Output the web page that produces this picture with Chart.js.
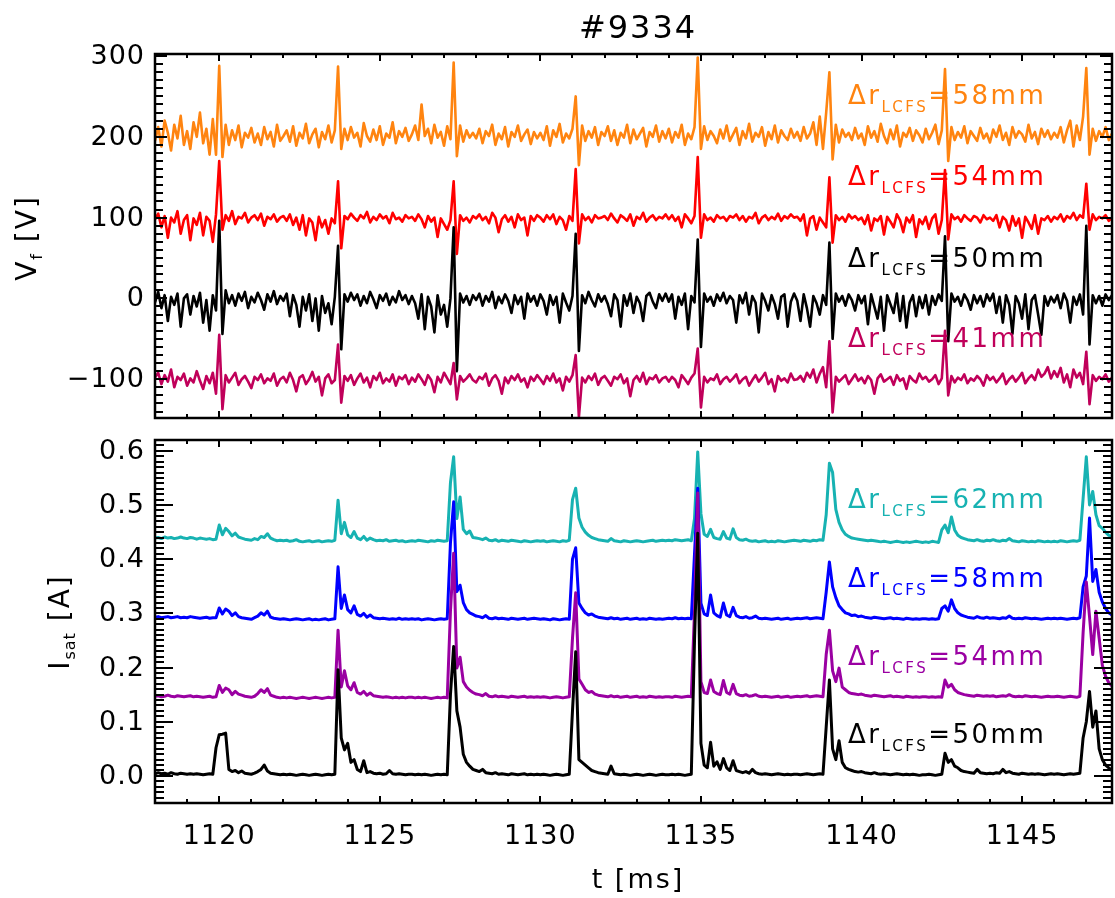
<!DOCTYPE html>
<html>
<head>
<meta charset="utf-8">
<script src="https://cdn.jsdelivr.net/npm/chart.js@4.4.1/dist/chart.umd.min.js"></script>
<style>
html,body{margin:0;padding:0;background:#fff;width:1115px;height:898px;overflow:hidden}
#c1{position:absolute;left:0;top:0}
#c2{position:absolute;left:0;top:430px}
</style>
</head>
<body>
<canvas id="c1" width="1115" height="430"></canvas>
<canvas id="c2" width="1115" height="468"></canvas>
<script>
// ---------- sampling grid (time in ms, 0.1 ms step) ----------
const T_START = 1118.0, T_STEP = 0.1, N_SAMPLES = 299;
const tMs = Array.from({length: N_SAMPLES}, (_, i) => +(T_START + i * T_STEP).toFixed(1));

// ---------- tick labels ----------
const tTicks = [1120, 1125, 1130, 1135, 1140, 1145];
const vfTicks = [-100, 0, 100, 200, 300];
const isatTicks = [0.0, 0.1, 0.2, 0.3, 0.4, 0.5, 0.6];

// ---------- series names ----------
const vfNames = ['=58mm', '=54mm', '=50mm', '=41mm'];
const isatNames = ['=62mm', '=58mm', '=54mm', '=50mm'];

// ---------- floating potential V_f [V] (traces offset as in the figure) ----------
const vf58 = [
195,212,188,220,205,183,215,198,226,190,207,185,218,200,230,192,210,178,222,178,
288,175,215,190,208,196,214,187,205,199,211,193,204,190,212,197,206,188,215,195,
201,208,194,213,189,205,198,216,192,203,210,187,206,197,214,193,208,287,185,210,
196,212,199,205,188,217,201,194,209,196,213,190,204,199,218,192,207,200,211,195,
203,214,196,240,201,210,192,215,199,206,189,213,197,292,176,214,194,208,199,205,
198,210,192,207,201,215,190,204,197,212,188,206,200,214,195,203,209,191,206,198,
205,196,213,189,208,200,216,193,204,198,210,250,165,214,195,207,199,212,190,206,
201,213,195,208,190,205,199,215,192,209,197,204,211,188,206,200,214,194,207,198,
210,193,206,199,215,190,204,197,212,298,185,213,196,207,201,192,209,198,214,195,
203,211,190,207,198,216,194,205,200,212,189,206,197,214,193,208,201,196,210,199,
206,195,212,198,204,218,190,225,185,230,280,172,215,193,209,200,205,196,211,198,
204,190,213,199,207,194,216,201,192,209,197,214,188,205,200,211,195,208,202,193,
210,197,205,215,191,208,284,170,212,196,206,199,213,192,207,201,195,211,198,204,
193,209,200,214,196,205,190,212,199,207,203,194,215,198,206,191,210,200,208,197,
205,199,212,193,208,220,188,214,196,225,285,178,210,195,207,200,212,196,204];
const vf54 = [
98,105,88,102,75,100,94,108,80,97,103,72,99,91,106,78,101,96,70,104,
170,85,103,96,108,92,101,99,106,94,100,103,97,105,90,101,98,104,95,100,
102,96,104,91,100,85,103,78,99,94,72,101,88,97,80,99,93,145,62,102,
98,105,100,96,103,99,107,94,101,97,104,99,102,93,106,98,100,95,103,99,
101,96,104,98,88,102,95,100,76,99,92,85,97,145,55,103,96,100,94,102,
99,104,97,101,93,106,100,82,98,103,95,101,88,104,97,100,78,102,96,103,
100,95,103,98,104,92,101,97,85,102,96,160,68,104,97,101,94,103,99,100,
102,97,105,99,94,103,100,96,104,90,101,98,106,95,100,103,97,101,99,104,
98,103,96,101,88,104,99,93,102,175,75,104,97,100,95,103,99,101,96,102,
100,104,97,102,95,101,99,106,93,100,103,97,101,98,105,96,102,99,104,100,
101,96,104,78,99,102,85,100,94,88,150,69,103,97,101,95,104,99,102,97,
100,92,103,84,99,96,102,79,101,95,88,104,97,82,100,94,103,76,98,92,
101,86,99,104,80,97,159,73,104,98,101,95,103,99,96,102,100,94,103,98,
100,96,103,88,101,97,84,102,90,99,75,101,94,86,103,80,99,97,102,95,
101,98,104,95,102,99,106,97,103,100,142,85,104,97,101,99,103,96,100];
const vf50 = [
-5,8,-12,4,-28,2,-8,6,-35,0,5,-20,3,-10,7,-30,-2,-40,4,-15,
96,-44,10,-6,4,-9,6,-3,8,-12,2,-5,7,-2,-14,5,-4,9,-7,3,
-3,6,-22,4,-8,-35,2,-15,5,-28,0,-40,3,-18,-6,-32,2,65,-63,5,
-4,7,-2,5,-9,3,-6,8,-1,-12,4,-3,6,-8,2,-5,9,-2,4,-7,
3,-6,-25,5,-38,2,-10,-42,4,-20,-8,-35,0,88,-90,6,-5,3,-8,4,
-2,6,-9,3,-4,8,-12,2,-6,5,-3,-18,4,-7,2,-25,6,-4,3,-9,
5,-3,-20,4,-8,2,-30,6,-5,-15,3,80,-65,4,-6,8,-2,-10,5,-4,
3,-7,-22,5,-2,-35,4,-9,6,-18,2,-6,-28,3,7,-4,-12,5,-3,6,
-4,5,-25,2,-8,6,-38,3,-5,73,-60,6,-4,2,-9,5,-3,7,-6,3,
-2,-30,4,-6,7,-20,3,-5,-42,6,-3,-15,4,-7,-25,2,5,-35,-4,6,
-3,-28,5,-12,-35,3,-6,-20,4,-8,69,-50,6,-4,3,-9,5,-2,-15,4,
-6,3,-32,5,-10,-25,2,-40,4,-7,-18,6,-28,3,-36,-5,4,-22,2,-12,
4,-20,3,-8,5,-3,77,-53,6,-4,2,-9,5,-2,-14,4,-6,3,-10,5,
-3,6,-18,2,-30,4,-8,-44,3,-6,-25,5,-38,-2,4,-20,-45,3,-9,2,
-5,4,-12,6,-3,-30,2,-8,5,-20,90,-57,4,-6,3,-9,5,-2,4];
const vf41 = [
-98,-92,-106,-95,-103,-88,-110,-97,-101,-93,-108,-99,-104,-90,-102,-112,-96,-105,-92,-118,
-45,-137,-95,-104,-98,-92,-107,-100,-96,-103,-111,-97,-101,-94,-105,-99,-102,-93,-108,-100,
-97,-104,-92,-101,-115,-98,-95,-106,-100,-91,-103,-97,-120,-99,-94,-105,-101,-57,-129,-96,
-102,-95,-107,-99,-93,-104,-98,-110,-96,-101,-92,-105,-99,-103,-94,-108,-97,-100,-95,-106,
-98,-103,-94,-100,-107,-95,-101,-116,-97,-104,-92,-99,-106,-80,-125,-96,-103,-99,-94,-101,
-104,-97,-100,-93,-108,-99,-95,-102,-118,-98,-105,-96,-101,-94,-103,-99,-110,-97,-102,-95,
-100,-106,-96,-102,-93,-104,-99,-114,-97,-103,-95,-70,-147,-98,-104,-96,-101,-93,-107,-99,
-96,-102,-108,-97,-100,-94,-105,-99,-121,-101,-96,-103,-92,-106,-98,-100,-95,-104,-99,-97,
-103,-97,-101,-110,-95,-100,-106,-98,-93,-62,-135,-97,-104,-99,-101,-94,-106,-100,-97,-103,
-99,-94,-105,-100,-97,-108,-101,-95,-103,-98,-92,-106,-100,-115,-96,-102,-99,-104,-93,-101,
-100,-96,-103,-92,-98,-88,-104,-93,-85,-110,-53,-141,-97,-103,-99,-95,-106,-100,-94,-102,
-98,-105,-96,-101,-118,-99,-94,-103,-100,-97,-107,-95,-102,-99,-112,-96,-101,-104,-93,-100,
-97,-103,-100,-95,-106,-99,-40,-120,-96,-104,-98,-101,-94,-105,-99,-102,-96,-100,-108,-95,
-101,-97,-104,-99,-93,-106,-100,-96,-103,-98,-92,-105,-99,-95,-101,-88,-97,-93,-85,-99,
-90,-97,-86,-104,-94,-110,-88,-98,-92,-106,-66,-131,-95,-102,-97,-100,-94,-103,-98];

// ---------- ion saturation current I_sat [A] (traces offset as in the figure) ----------
const isat62 = [
0.439,0.440,0.438,0.441,0.439,0.440,0.438,0.439,0.441,0.439,0.438,0.440,0.439,0.437,0.439,0.438,0.437,0.438,0.436,0.437,
0.463,0.445,0.457,0.451,0.443,0.448,0.441,0.439,0.437,0.436,0.435,0.438,0.436,0.442,0.440,0.447,0.439,0.436,0.434,0.435,
0.434,0.435,0.433,0.434,0.436,0.433,0.432,0.433,0.434,0.432,0.433,0.434,0.432,0.433,0.434,0.433,0.435,0.509,0.447,0.468,
0.445,0.440,0.451,0.439,0.436,0.442,0.435,0.439,0.436,0.434,0.435,0.434,0.436,0.433,0.434,0.435,0.433,0.434,0.432,0.433,
0.434,0.433,0.435,0.434,0.433,0.432,0.434,0.433,0.435,0.434,0.433,0.434,0.541,0.589,0.475,0.515,0.455,0.447,0.452,0.440,
0.439,0.438,0.436,0.439,0.435,0.434,0.436,0.433,0.435,0.434,0.433,0.435,0.434,0.433,0.432,0.434,0.433,0.432,0.433,0.434,
0.433,0.434,0.432,0.433,0.434,0.433,0.432,0.434,0.433,0.435,0.510,0.531,0.476,0.459,0.450,0.444,0.440,0.438,0.436,0.435,
0.434,0.433,0.438,0.434,0.433,0.432,0.434,0.433,0.432,0.433,0.434,0.433,0.432,0.433,0.434,0.435,0.433,0.434,0.435,0.434,
0.435,0.434,0.436,0.435,0.434,0.435,0.436,0.434,0.475,0.598,0.484,0.446,0.442,0.455,0.440,0.438,0.437,0.451,0.439,0.437,
0.456,0.440,0.436,0.435,0.437,0.434,0.433,0.434,0.432,0.433,0.434,0.432,0.433,0.432,0.434,0.433,0.432,0.433,0.434,0.435,
0.434,0.433,0.435,0.434,0.433,0.435,0.434,0.436,0.435,0.482,0.577,0.560,0.492,0.468,0.454,0.446,0.442,0.439,0.438,0.437,
0.436,0.435,0.434,0.435,0.434,0.433,0.432,0.433,0.432,0.431,0.432,0.433,0.432,0.431,0.432,0.431,0.432,0.433,0.432,0.431,
0.432,0.431,0.433,0.432,0.431,0.454,0.463,0.449,0.478,0.454,0.444,0.440,0.438,0.436,0.435,0.434,0.436,0.434,0.433,0.435,
0.434,0.436,0.434,0.433,0.435,0.434,0.438,0.434,0.433,0.432,0.434,0.433,0.432,0.433,0.432,0.434,0.433,0.432,0.433,0.432,
0.433,0.432,0.434,0.433,0.432,0.433,0.434,0.433,0.435,0.512,0.589,0.500,0.525,0.482,0.462,0.457,0.450,0.444,0.442];
const isat58 = [
0.293,0.294,0.292,0.293,0.294,0.292,0.293,0.294,0.292,0.293,0.292,0.294,0.293,0.292,0.291,0.292,0.293,0.291,0.292,0.292,
0.310,0.299,0.308,0.304,0.296,0.301,0.294,0.292,0.291,0.290,0.289,0.292,0.295,0.301,0.297,0.304,0.293,0.291,0.290,0.289,
0.290,0.289,0.288,0.289,0.290,0.289,0.288,0.289,0.290,0.288,0.289,0.288,0.289,0.290,0.288,0.289,0.290,0.386,0.309,0.334,
0.307,0.301,0.314,0.298,0.295,0.300,0.293,0.297,0.292,0.291,0.290,0.291,0.290,0.289,0.290,0.289,0.291,0.289,0.290,0.289,
0.290,0.289,0.290,0.288,0.289,0.290,0.289,0.288,0.289,0.290,0.289,0.290,0.430,0.506,0.340,0.352,0.320,0.307,0.301,0.298,
0.295,0.294,0.292,0.296,0.291,0.290,0.292,0.290,0.291,0.290,0.289,0.291,0.290,0.289,0.290,0.291,0.289,0.290,0.291,0.290,
0.289,0.290,0.289,0.288,0.290,0.289,0.288,0.289,0.290,0.289,0.400,0.421,0.319,0.309,0.301,0.297,0.299,0.295,0.293,0.292,
0.291,0.290,0.292,0.290,0.291,0.289,0.290,0.291,0.289,0.290,0.291,0.289,0.290,0.289,0.291,0.290,0.289,0.290,0.289,0.290,
0.291,0.290,0.292,0.290,0.291,0.290,0.291,0.290,0.410,0.531,0.319,0.299,0.296,0.334,0.301,0.296,0.293,0.319,0.297,0.294,
0.311,0.296,0.293,0.292,0.294,0.291,0.292,0.295,0.291,0.290,0.291,0.290,0.289,0.290,0.291,0.289,0.290,0.291,0.289,0.290,
0.291,0.290,0.291,0.292,0.290,0.291,0.292,0.291,0.290,0.339,0.395,0.349,0.329,0.314,0.307,0.301,0.299,0.296,0.297,0.294,
0.295,0.293,0.292,0.291,0.293,0.292,0.291,0.290,0.291,0.292,0.290,0.291,0.290,0.289,0.291,0.290,0.289,0.290,0.289,0.290,
0.290,0.289,0.290,0.289,0.290,0.309,0.314,0.304,0.325,0.309,0.301,0.297,0.295,0.293,0.292,0.291,0.294,0.292,0.291,0.293,
0.291,0.292,0.291,0.290,0.292,0.291,0.295,0.291,0.290,0.291,0.290,0.292,0.291,0.290,0.291,0.290,0.289,0.290,0.291,0.290,
0.291,0.290,0.291,0.290,0.289,0.290,0.291,0.290,0.292,0.349,0.369,0.476,0.359,0.381,0.339,0.321,0.309,0.301,0.297];
const isat54 = [
0.147,0.148,0.146,0.147,0.149,0.147,0.146,0.148,0.147,0.146,0.147,0.148,0.146,0.147,0.146,0.145,0.146,0.147,0.145,0.146,
0.167,0.154,0.162,0.159,0.150,0.156,0.151,0.149,0.147,0.146,0.145,0.147,0.152,0.159,0.154,0.161,0.149,0.147,0.145,0.144,
0.145,0.144,0.145,0.144,0.143,0.144,0.145,0.144,0.143,0.144,0.145,0.144,0.143,0.144,0.145,0.144,0.145,0.269,0.164,0.194,
0.166,0.159,0.172,0.154,0.151,0.156,0.149,0.153,0.148,0.147,0.146,0.145,0.146,0.145,0.144,0.145,0.144,0.145,0.144,0.145,
0.145,0.144,0.145,0.144,0.145,0.144,0.143,0.144,0.145,0.144,0.145,0.144,0.304,0.411,0.199,0.219,0.174,0.164,0.158,0.154,
0.151,0.150,0.148,0.152,0.147,0.146,0.148,0.146,0.147,0.146,0.145,0.147,0.146,0.145,0.146,0.147,0.145,0.146,0.145,0.146,
0.145,0.146,0.145,0.144,0.145,0.146,0.145,0.144,0.145,0.146,0.254,0.338,0.179,0.169,0.159,0.154,0.156,0.151,0.149,0.148,
0.147,0.146,0.148,0.146,0.147,0.145,0.146,0.147,0.145,0.146,0.147,0.145,0.146,0.145,0.147,0.146,0.145,0.146,0.145,0.146,
0.146,0.145,0.147,0.146,0.145,0.146,0.147,0.146,0.304,0.522,0.174,0.154,0.152,0.177,0.156,0.152,0.150,0.176,0.154,0.151,
0.169,0.152,0.149,0.148,0.150,0.147,0.148,0.150,0.147,0.146,0.147,0.146,0.145,0.146,0.147,0.145,0.146,0.147,0.145,0.146,
0.147,0.146,0.147,0.148,0.146,0.147,0.148,0.147,0.146,0.224,0.269,0.194,0.174,0.199,0.164,0.159,0.154,0.152,0.151,0.150,
0.151,0.149,0.148,0.147,0.149,0.148,0.147,0.146,0.147,0.148,0.146,0.147,0.146,0.145,0.147,0.146,0.145,0.146,0.145,0.146,
0.146,0.145,0.146,0.145,0.146,0.145,0.177,0.164,0.169,0.159,0.154,0.152,0.150,0.149,0.148,0.147,0.149,0.148,0.147,0.148,
0.147,0.148,0.146,0.147,0.148,0.147,0.150,0.147,0.146,0.147,0.146,0.148,0.147,0.146,0.147,0.146,0.145,0.146,0.147,0.146,
0.146,0.147,0.146,0.145,0.146,0.147,0.146,0.145,0.147,0.264,0.358,0.294,0.224,0.304,0.254,0.204,0.184,0.172,0.166];
const isat50 = [
0.004,0.006,0.004,0.005,0.003,0.006,0.004,0.003,0.005,0.004,0.003,0.004,0.003,0.004,0.003,0.002,0.003,0.004,0.003,0.052,
0.076,0.077,0.079,0.012,0.008,0.010,0.006,0.009,0.005,0.004,0.003,0.005,0.008,0.012,0.020,0.009,0.005,0.004,0.003,0.002,
0.003,0.002,0.003,0.002,0.001,0.002,0.003,0.002,0.001,0.002,0.003,0.002,0.001,0.002,0.003,0.002,0.003,0.196,0.070,0.048,
0.060,0.025,0.030,0.012,0.008,0.028,0.006,0.008,0.005,0.004,0.005,0.003,0.004,0.010,0.004,0.003,0.004,0.003,0.002,0.003,
0.003,0.002,0.003,0.002,0.003,0.002,0.001,0.002,0.003,0.002,0.003,0.002,0.150,0.239,0.120,0.090,0.040,0.025,0.018,0.012,
0.010,0.008,0.012,0.006,0.005,0.004,0.006,0.003,0.004,0.003,0.002,0.004,0.003,0.002,0.003,0.004,0.002,0.003,0.002,0.003,
0.002,0.003,0.002,0.001,0.002,0.003,0.002,0.001,0.002,0.003,0.120,0.229,0.030,0.025,0.020,0.015,0.010,0.008,0.006,0.005,
0.004,0.003,0.018,0.004,0.003,0.002,0.003,0.002,0.001,0.002,0.003,0.002,0.001,0.002,0.003,0.002,0.001,0.002,0.003,0.002,
0.002,0.003,0.002,0.003,0.002,0.001,0.002,0.003,0.250,0.448,0.060,0.020,0.015,0.062,0.018,0.026,0.012,0.032,0.015,0.010,
0.028,0.010,0.008,0.006,0.008,0.005,0.012,0.006,0.004,0.003,0.004,0.003,0.002,0.003,0.004,0.003,0.002,0.003,0.002,0.003,
0.003,0.002,0.003,0.004,0.003,0.002,0.003,0.004,0.003,0.090,0.177,0.050,0.030,0.065,0.025,0.015,0.012,0.010,0.008,0.007,
0.008,0.006,0.005,0.004,0.006,0.004,0.003,0.004,0.003,0.002,0.003,0.004,0.003,0.002,0.003,0.002,0.003,0.002,0.001,0.002,
0.002,0.003,0.002,0.001,0.002,0.003,0.042,0.025,0.030,0.018,0.015,0.010,0.008,0.007,0.006,0.005,0.012,0.006,0.005,0.004,
0.005,0.004,0.006,0.005,0.012,0.006,0.008,0.005,0.004,0.003,0.005,0.004,0.003,0.004,0.003,0.004,0.003,0.002,0.003,0.004,
0.003,0.004,0.003,0.002,0.003,0.004,0.003,0.004,0.005,0.070,0.100,0.156,0.090,0.120,0.050,0.030,0.020,0.015,0.010];

[vf58, vf54, vf50, vf41, isat62, isat58, isat54, isat50].forEach((a, k) => {
  if (a.length !== N_SAMPLES) throw new Error('series ' + k + ' has ' + a.length + ' values');
});

// ---------- styling ----------
const FONT = 'DejaVu Sans';
const C_ORANGE = '#FF8410', C_RED = '#FF0000', C_BLACK = '#000000', C_CRIMSON = '#C0005A';
const C_CYAN = '#17B2B2', C_BLUE = '#0000FF', C_PURPLE = '#9A00A2';

Chart.defaults.font.family = FONT;
Chart.defaults.font.size = 27;
Chart.defaults.color = '#000';

function ds(data, color, order, width) {
  return { data, borderColor: color, backgroundColor: color, borderWidth: width, pointRadius: 0,
           tension: 0, fill: false, order, borderJoinStyle: 'round', borderCapStyle: 'butt' };
}

function drawParts(ctx, x, y, parts, color) {
  ctx.fillStyle = color;
  ctx.textAlign = 'left';
  ctx.textBaseline = 'alphabetic';
  let cx = x;
  for (const p of parts) {
    ctx.font = p.size + 'px "' + FONT + '"';
    ctx.letterSpacing = (p.ls || 0) + 'px';
    ctx.fillText(p.text, cx, y + (p.dy || 0));
    cx += ctx.measureText(p.text).width;
  }
  return cx - x;
}
function measureParts(ctx, parts) {
  let w = 0;
  for (const p of parts) {
    ctx.font = p.size + 'px "' + FONT + '"';
    ctx.letterSpacing = (p.ls || 0) + 'px';
    w += ctx.measureText(p.text).width;
  }
  return w;
}
function drawRotated(ctx, baseX, centerY, parts) {
  ctx.save();
  ctx.translate(baseX, centerY);
  ctx.rotate(-Math.PI / 2);
  const w = measureParts(ctx, parts);
  drawParts(ctx, -w / 2, 0, parts, '#000');
  ctx.restore();
}
function seriesLabel(name) {
  return [
    { text: 'Δr', size: 26, ls: 2.5 },
    { text: 'LCFS', size: 15, ls: 2.5, dy: 8 },
    { text: name, size: 26, ls: 2.5 }
  ];
}

function frameTicks(cfg) {
  return {
    id: 'frameTicks',
    beforeDraw(chart) { chart.ctx.letterSpacing = '1px'; },
    afterDatasetsDraw(chart) {
      const ctx = chart.ctx, a = chart.chartArea, xs = chart.scales.x, ys = chart.scales.y;
      ctx.save();
      ctx.strokeStyle = '#000';
      ctx.lineWidth = 2;
      ctx.beginPath();
      for (let v = Math.ceil(xs.min); v <= xs.max; v++) {
        const p = Math.round(xs.getPixelForValue(v));
        const L = (v % 5 === 0) ? cfg.xMaj : cfg.xMin;
        ctx.moveTo(p, a.bottom); ctx.lineTo(p, a.bottom - L);
        ctx.moveTo(p, a.top); ctx.lineTo(p, a.top + L);
      }
      const k0 = Math.ceil(ys.min / cfg.yStep - 1e-6), k1 = Math.floor(ys.max / cfg.yStep + 1e-6);
      for (let k = k0; k <= k1; k++) {
        const p = Math.round(ys.getPixelForValue(k * cfg.yStep));
        const L = (k % cfg.yPer === 0) ? cfg.yMaj : cfg.yMin;
        ctx.moveTo(a.left, p); ctx.lineTo(a.left + L, p);
        ctx.moveTo(a.right, p); ctx.lineTo(a.right - L, p);
      }
      ctx.stroke();
      ctx.lineWidth = 2.5;
      ctx.strokeRect(a.left, a.top, a.right - a.left, a.bottom - a.top);
      ctx.restore();
    }
  };
}

function baseOptions(o) {
  return {
    responsive: false, animation: false, events: [],
    layout: { padding: o.padding },
    plugins: { legend: { display: false }, tooltip: { enabled: false }, title: { display: false } },
    scales: {
      x: {
        type: 'linear', min: 1118, max: 1147.8, display: o.showX,
        afterBuildTicks: s => { s.ticks = tTicks.map(v => ({ value: v })); },
        afterFit: s => { if (o.showX) s.height = 95; s.paddingLeft = 0; s.paddingRight = 0; },
        grid: { display: false, drawTicks: false }, border: { display: false },
        ticks: { padding: 18, maxRotation: 0, autoSkip: false, color: '#000', font: { size: 27 },
                 callback: v => String(v) }
      },
      y: {
        type: 'linear', min: o.ymin, max: o.ymax,
        afterBuildTicks: s => { s.ticks = o.yticks.map(v => ({ value: v })); },
        afterFit: s => { s.width = 155; s.paddingTop = 0; s.paddingBottom = 0; },
        grid: { display: false, drawTicks: false }, border: { display: false },
        ticks: { padding: 10, labelOffset: 1, autoSkip: false, color: '#000', font: { size: 27 },
                 callback: o.fmt }
      }
    }
  };
}

// ---------- top panel: V_f ----------
new Chart(document.getElementById('c1'), {
  type: 'line',
  data: { labels: tMs, datasets: [
    ds(vf58, C_ORANGE, 4, 2.6), ds(vf54, C_RED, 3, 2.6), ds(vf50, C_BLACK, 2, 2.6), ds(vf41, C_CRIMSON, 1, 2.6)
  ]},
  options: baseOptions({
    padding: { left: 0, right: 3, top: 54, bottom: 12 }, showX: false,
    ymin: -148, ymax: 302.5, yticks: vfTicks,
    fmt: v => (v < 0 ? '\u2212' + Math.abs(v) : String(v))
  }),
  plugins: [frameTicks({ xMaj: 7, xMin: 4, yStep: 10, yPer: 10, yMaj: 12, yMin: 8 }), {
    id: 'textTop',
    afterDraw(chart) {
      const ctx = chart.ctx;
      ctx.save();
      ctx.font = '32px "' + FONT + '"';
      ctx.letterSpacing = '2px';
      ctx.fillStyle = '#000';
      ctx.textAlign = 'center';
      ctx.textBaseline = 'alphabetic';
      ctx.fillText('#9334', 638, 38);
      drawRotated(ctx, 36, 238, [
        { text: 'V', size: 28, ls: 2 }, { text: 'f', size: 16, ls: 1, dy: 6 }, { text: ' [V]', size: 28, ls: 2 }
      ]);
      const cols = [C_ORANGE, C_RED, C_BLACK, C_CRIMSON];
      const base = [104, 185, 267, 347];
      vfNames.forEach((n, i) => drawParts(ctx, 848, base[i], seriesLabel(n), cols[i]));
      ctx.restore();
    }
  }]
});

// ---------- bottom panel: I_sat ----------
new Chart(document.getElementById('c2'), {
  type: 'line',
  data: { labels: tMs, datasets: [
    ds(isat62, C_CYAN, 4, 3), ds(isat58, C_BLUE, 3, 3), ds(isat54, C_PURPLE, 2, 3), ds(isat50, C_BLACK, 1, 3)
  ]},
  options: baseOptions({
    padding: { left: 0, right: 3, top: 10, bottom: 0 }, showX: true,
    ymin: -0.05, ymax: 0.62, yticks: isatTicks,
    fmt: v => Number(v).toFixed(1)
  }),
  plugins: [frameTicks({ xMaj: 7, xMin: 4, yStep: 0.01, yPer: 10, yMaj: 18, yMin: 9 }), {
    id: 'textBottom',
    afterDraw(chart) {
      const ctx = chart.ctx;
      ctx.save();
      ctx.font = '27px "' + FONT + '"';
      ctx.letterSpacing = '2px';
      ctx.fillStyle = '#000';
      ctx.textAlign = 'center';
      ctx.textBaseline = 'alphabetic';
      ctx.fillText('t [ms]', 638, 888 - 430);
      drawRotated(ctx, 69, 622 - 430, [
        { text: 'I', size: 28, ls: 2 }, { text: 'sat', size: 16, ls: 1, dy: 6 }, { text: ' [A]', size: 28, ls: 2 }
      ]);
      const cols = [C_CYAN, C_BLUE, C_PURPLE, C_BLACK];
      const base = [508, 587, 665, 743];
      isatNames.forEach((n, i) => drawParts(ctx, 848, base[i] - 430, seriesLabel(n), cols[i]));
      ctx.restore();
    }
  }]
});
</script>
</body>
</html>
